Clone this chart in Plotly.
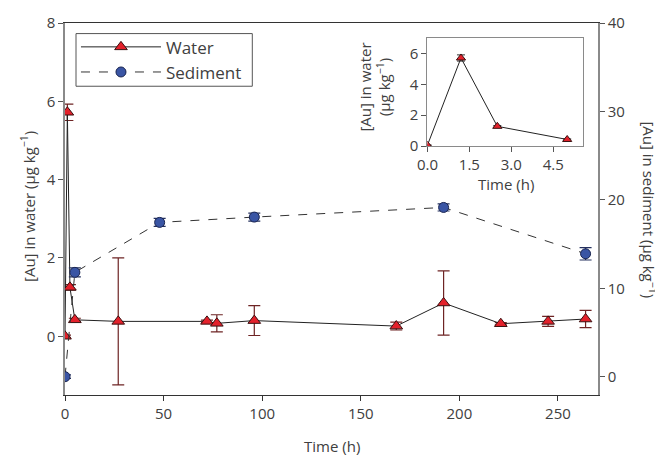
import plotly.graph_objects as go

# Water data (left axis)
water_t = [0, 1.2, 2.5, 5.0, 27, 72, 77, 96, 168, 192, 221, 245, 264]
water_au = [0.0, 5.72, 1.25, 0.42, 0.38, 0.38, 0.33, 0.40, 0.26, 0.85, 0.32, 0.38, 0.44]
water_err = [0.03, 0.21, 0.07, 0.04, 1.62, 0.03, 0.22, 0.38, 0.10, 0.82, 0.03, 0.13, 0.22]

# Sediment data (right axis)
sed_t = [0, 5, 48, 96, 192, 264]
sed_au = [0.0, 11.8, 17.45, 18.05, 19.14, 13.9]
sed_err = [0.2, 0.5, 0.45, 0.45, 0.4, 0.7]

# Inset data (first 5 h)
inset_t = [0, 1.2, 2.5, 5.0]
inset_au = [0.06, 5.7, 1.28, 0.43]
inset_err = [0.02, 0.2, 0.05, 0.04]

x_ticks = [0, 50, 100, 150, 200, 250]
yl_ticks = [0, 2, 4, 6, 8]
yr_ticks = [0, 10, 20, 30, 40]
inset_x_ticks = [0, 1.5, 3.0, 4.5]
inset_y_ticks = [0, 2, 4, 6]

FONT = "Open Sans"
TXT = "#404040"
RED = "#e3212b"
BLUE = "#3a55a4"

fig = go.Figure()

fig.add_trace(go.Scatter(
    x=water_t, y=water_au, name="Water", mode="lines+markers",
    line=dict(color="#222222", width=1),
    marker=dict(symbol="triangle-up", size=11, color=RED, line=dict(color="#3a1010", width=1)),
    error_y=dict(type="data", array=water_err, visible=True, color="#6e2424", thickness=1.2, width=6),
    xaxis="x", yaxis="y",
))
fig.add_trace(go.Scatter(
    x=sed_t, y=sed_au, name="Sediment", mode="lines+markers",
    line=dict(color="#333333", width=1, dash="dash"),
    marker=dict(symbol="circle", size=10, color=BLUE, line=dict(color="#1a2550", width=1)),
    error_y=dict(type="data", array=sed_err, visible=True, color="#24305e", thickness=1.2, width=6),
    xaxis="x", yaxis="y2",
))
fig.add_trace(go.Scatter(
    x=inset_t, y=inset_au, mode="lines+markers", showlegend=False,
    line=dict(color="#222222", width=1),
    marker=dict(symbol="triangle-up", size=8, color=RED, line=dict(color="#3a1010", width=1)),
    error_y=dict(type="data", array=inset_err, visible=True, color="#333333", thickness=1, width=4),
    xaxis="x2", yaxis="y3",
))

axis_common = dict(showgrid=False, zeroline=False, ticks="outside", ticklen=5,
                   tickfont=dict(family=FONT, size=15, color=TXT))

# page body has an 8px margin: the figure is shifted by 8px, so it is sized to compensate
fig.update_layout(
    width=655, height=448,
    margin=dict(l=57, r=65.3, t=15, b=61, autoexpand=False),
    paper_bgcolor="white", plot_bgcolor="white",
    font=dict(family=FONT, size=15, color=TXT),
    xaxis=dict(domain=[0, 1], range=[0, 270.3], tickvals=x_ticks, showline=True,
               linecolor="#333333", linewidth=1.3, mirror=True, tickcolor="#333333",
               anchor="y", **axis_common),
    yaxis=dict(range=[-1.5, 8], tickvals=yl_ticks, showline=True, linecolor="#8a8a8a",
               linewidth=1.5, tickcolor="#555555", anchor="x", **axis_common),
    yaxis2=dict(range=[-2.07, 40], tickvals=yr_ticks, overlaying="y", side="right",
                showline=True, linecolor="#8a8a8a", linewidth=1.5, tickcolor="#555555",
                anchor="x", **axis_common),
    xaxis2=dict(domain=[0.680, 0.971], range=[0, 5.55], tickvals=inset_x_ticks,
                tickformat=".1f", showline=True, linecolor="#8a8a8a", linewidth=1,
                mirror=True, tickcolor="#555555", anchor="y3", **axis_common),
    yaxis3=dict(domain=[0.669, 0.960], range=[0, 7], tickvals=inset_y_ticks,
                showline=True, linecolor="#8a8a8a", linewidth=1, mirror=True,
                tickcolor="#555555", anchor="x2", **axis_common),
    legend=dict(x=0.0206, y=0.983, xanchor="left", yanchor="top",
                borderwidth=0, bgcolor="rgba(0,0,0,0)",
                font=dict(family=FONT, size=17, color=TXT), itemwidth=80),
    showlegend=True,
)

# legend frame
fig.add_shape(type="rect", xref="paper", yref="paper",
              x0=(76 - 65) / 533, x1=(252.3 - 65) / 533,
              y0=(395 - 86) / 372.3, y1=(395 - 33.3) / 372.3,
              line=dict(color="#555555", width=1), fillcolor="white", layer="below")

fig.add_annotation(text="Time (h)", xref="paper", yref="paper", x=0.5, y=-0.138,
                   xanchor="center", yanchor="middle", showarrow=False,
                   font=dict(family=FONT, size=15, color=TXT))
fig.add_annotation(text="[Au] in water (μg kg<sup>−1</sup>)", xref="paper", yref="paper",
                   x=-0.069, y=0.506, xanchor="center", yanchor="middle", textangle=-90,
                   showarrow=False, font=dict(family=FONT, size=15, color=TXT))
fig.add_annotation(text="[Au] in sediment (μg kg<sup>−1</sup>)", xref="paper", yref="paper",
                   x=1.097, y=0.497, xanchor="center", yanchor="middle", textangle=90,
                   showarrow=False, font=dict(family=FONT, size=15, color=TXT))
fig.add_annotation(text="Time (h)", xref="paper", yref="paper", x=0.827, y=0.568,
                   xanchor="center", yanchor="middle", showarrow=False,
                   font=dict(family=FONT, size=15, color=TXT))
fig.add_annotation(text="[Au] in water<br>(μg kg<sup>−1</sup>)", xref="paper", yref="paper",
                   x=0.582, y=0.827, xanchor="center", yanchor="middle", textangle=-90,
                   showarrow=False, font=dict(family=FONT, size=15, color=TXT))

fig.write_html("out.html")
